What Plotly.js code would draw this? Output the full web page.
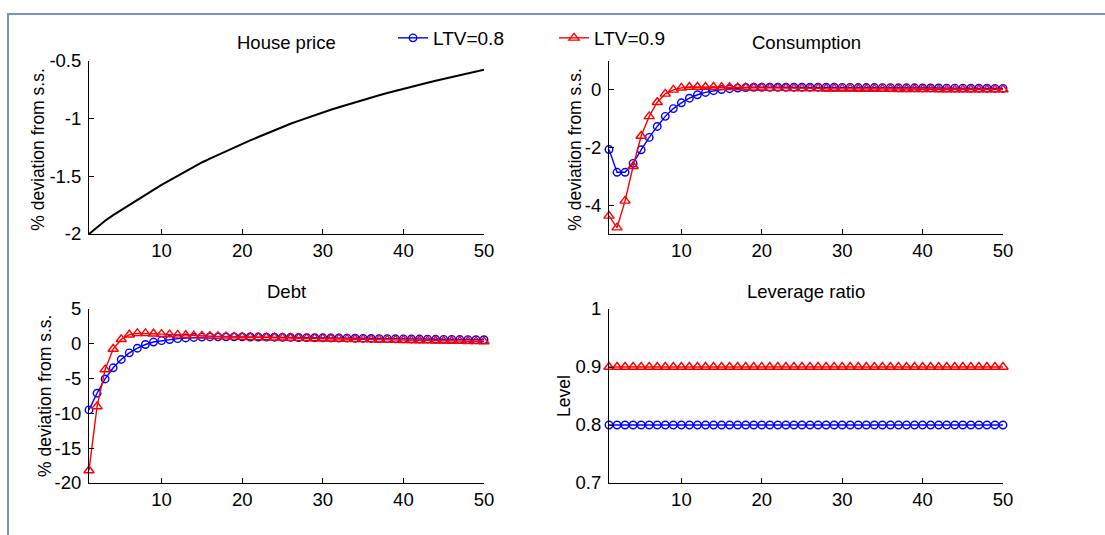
<!DOCTYPE html>
<html>
<head>
<meta charset="utf-8">
<script src="https://cdn.plot.ly/plotly-3.0.1.min.js"></script>
<style>
  html, body { margin: 0; padding: 0; background: #ffffff; }
  #chart { width: 1105px; height: 535px; }
</style>
</head>
<body>
<div id="chart"></div>
<script>
// ---------- data ----------
const periods = [1,2,3,4,5,6,7,8,9,10,11,12,13,14,15,16,17,18,19,20,21,22,23,24,25,
  26,27,28,29,30,31,32,33,34,35,36,37,38,39,40,41,42,43,44,45,46,47,48,49,50];

const seriesNames = ["LTV=0.8", "LTV=0.9"];
const panelTitles = ["House price", "Consumption", "Debt", "Leverage ratio"];
const yTitles = ["% deviation from s.s.", "% deviation from s.s.", "% deviation from s.s.", "Level"];

const housePrice = [-2.000,-1.940,-1.885,-1.837,-1.792,-1.747,-1.703,-1.659,-1.617,-1.575,
  -1.535,-1.495,-1.456,-1.418,-1.380,-1.347,-1.314,-1.282,-1.251,-1.220,
  -1.189,-1.159,-1.129,-1.099,-1.070,-1.044,-1.019,-0.994,-0.969,-0.945,
  -0.923,-0.901,-0.879,-0.857,-0.835,-0.816,-0.797,-0.778,-0.759,-0.740,
  -0.723,-0.706,-0.689,-0.672,-0.655,-0.639,-0.623,-0.607,-0.591,-0.575];

const consLTV08 = [-2.07,-2.86,-2.86,-2.55,-2.08,-1.65,-1.27,-0.92,-0.65,-0.45,
  -0.29,-0.17,-0.09,-0.03,0.01,0.04,0.06,0.08,0.09,0.09,
  0.09,0.09,0.09,0.09,0.09,0.09,0.09,0.09,0.09,0.085,
  0.085,0.08,0.08,0.08,0.075,0.075,0.07,0.07,0.07,0.065,
  0.065,0.065,0.06,0.06,0.06,0.055,0.055,0.055,0.05,0.05];

const consLTV09 = [-4.37,-4.78,-3.85,-2.65,-1.60,-0.92,-0.43,-0.14,0.00,0.07,
  0.10,0.10,0.10,0.10,0.09,0.09,0.08,0.08,0.07,0.07,
  0.06,0.06,0.06,0.05,0.05,0.05,0.05,0.04,0.04,0.04,
  0.04,0.03,0.03,0.03,0.03,0.03,0.02,0.02,0.02,0.02,
  0.02,0.01,0.01,0.01,0.01,0.01,0.01,0.01,0.01,0.01];

const debtLTV08 = [-9.5,-7.1,-5.05,-3.45,-2.25,-1.3,-0.63,-0.1,0.25,0.45,
  0.62,0.74,0.84,0.91,0.96,0.99,1.0,1.0,1.0,0.99,
  0.98,0.97,0.96,0.95,0.93,0.92,0.90,0.89,0.87,0.86,
  0.84,0.83,0.81,0.80,0.78,0.77,0.75,0.74,0.72,0.71,
  0.69,0.68,0.67,0.65,0.64,0.63,0.61,0.60,0.59,0.58];

const debtLTV09 = [-18.2,-9.0,-3.7,-0.75,0.65,1.3,1.5,1.5,1.45,1.39,
  1.33,1.28,1.23,1.18,1.14,1.10,1.06,1.03,1.00,0.97,
  0.95,0.93,0.90,0.88,0.86,0.84,0.82,0.79,0.77,0.75,
  0.73,0.70,0.68,0.65,0.63,0.61,0.59,0.56,0.54,0.52,
  0.50,0.48,0.46,0.44,0.42,0.40,0.38,0.37,0.35,0.33];

const levLTV08 = [0.8,0.8,0.8,0.8,0.8,0.8,0.8,0.8,0.8,0.8,0.8,0.8,0.8,0.8,0.8,0.8,0.8,0.8,0.8,0.8,
  0.8,0.8,0.8,0.8,0.8,0.8,0.8,0.8,0.8,0.8,0.8,0.8,0.8,0.8,0.8,0.8,0.8,0.8,0.8,0.8,
  0.8,0.8,0.8,0.8,0.8,0.8,0.8,0.8,0.8,0.8];
const levLTV09 = [0.9,0.9,0.9,0.9,0.9,0.9,0.9,0.9,0.9,0.9,0.9,0.9,0.9,0.9,0.9,0.9,0.9,0.9,0.9,0.9,
  0.9,0.9,0.9,0.9,0.9,0.9,0.9,0.9,0.9,0.9,0.9,0.9,0.9,0.9,0.9,0.9,0.9,0.9,0.9,0.9,
  0.9,0.9,0.9,0.9,0.9,0.9,0.9,0.9,0.9,0.9];

const xTicks = [10, 20, 30, 40, 50];
const xTickText = ["10", "20", "30", "40", "50"];
const yTicksHouse = [-2, -1.5, -1, -0.5];
const yTickTextHouse = ["-2", "-1.5", "-1", "-0.5"];
const yTicksCons = [-4, -2, 0];
const yTickTextCons = ["-4", "-2", "0"];
const yTicksDebt = [-20, -15, -10, -5, 0, 5];
const yTickTextDebt = ["-20", "-15", "-10", "-5", "0", "5"];
const yTicksLev = [0.7, 0.8, 0.9, 1];
const yTickTextLev = ["0.7", "0.8", "0.9", "1"];

// ---------- styling ----------
const FONT = "Liberation Sans, Arial, Helvetica, sans-serif";
const FS_TICK = 18.5;
const FS_TITLE = 18.5;
const FS_YLAB = 17.5;
const FS_LEG = 19;
const BLUE = "#0000ff", RED = "#ff0000";

function blueTrace(y, xa, ya, legend) {
  return { x: periods, y: y, xaxis: xa, yaxis: ya, type: "scatter", mode: "lines+markers",
    name: seriesNames[0], showlegend: legend, cliponaxis: false,
    line: { color: BLUE, width: 1.4 },
    marker: { symbol: "circle-open", size: 7.5, color: BLUE, line: { color: BLUE, width: 1.4 } } };
}
function redTrace(y, xa, ya, legend) {
  return { x: periods, y: y, xaxis: xa, yaxis: ya, type: "scatter", mode: "lines+markers",
    name: seriesNames[1], showlegend: legend, cliponaxis: false,
    line: { color: RED, width: 1.4 },
    marker: { symbol: "triangle-up-open", size: 9, color: RED, line: { color: RED, width: 1.4 } } };
}

const traces = [
  { x: periods, y: housePrice, xaxis: "x", yaxis: "y", type: "scatter", mode: "lines",
    showlegend: false, cliponaxis: false, line: { color: "#000000", width: 2 } },
  blueTrace(consLTV08, "x2", "y2", true),
  redTrace(consLTV09, "x2", "y2", true),
  blueTrace(debtLTV08, "x3", "y3", false),
  redTrace(debtLTV09, "x3", "y3", false),
  blueTrace(levLTV08, "x4", "y4", false),
  redTrace(levLTV09, "x4", "y4", false)
];

const W = 1105, H = 535;
const colL = [89 / W, 484 / W];
const colR = [609 / W, 1003 / W];
const rowT = [(H - 234) / H, (H - 61) / H];
const rowB = [(H - 483) / H, (H - 309) / H];

function xAxis(domain, anchor) {
  return { domain: domain, anchor: anchor, range: [1, 50], tickmode: "array",
    tickvals: xTicks, ticktext: xTickText, showline: true, linecolor: "#000", linewidth: 1,
    ticks: "inside", ticklen: 5, tickwidth: 1, tickcolor: "#000", showgrid: false, zeroline: false,
    ticklabelstandoff: 0, tickfont: { family: FONT, size: FS_TICK, color: "#000" }, fixedrange: true };
}
function yAxis(domain, anchor, range, tv, tt) {
  return { domain: domain, anchor: anchor, range: range, tickmode: "array",
    tickvals: tv, ticktext: tt, showline: true, linecolor: "#000", linewidth: 1,
    ticks: "inside", ticklen: 5, tickwidth: 1, tickcolor: "#000", showgrid: false, zeroline: false,
    ticklabelstandoff: 3, tickfont: { family: FONT, size: FS_TICK, color: "#000" }, fixedrange: true };
}

function ann(text, x, y, angle, size) {
  return { text: text, x: x, y: y, xref: "paper", yref: "paper", xanchor: "center", yanchor: "middle",
    showarrow: false, textangle: angle || 0, font: { family: FONT, size: size, color: "#000" } };
}

const layout = {
  width: W, height: H,
  margin: { l: 0, r: 0, t: 0, b: 0 },
  paper_bgcolor: "#ffffff", plot_bgcolor: "#ffffff",
  font: { family: FONT, size: FS_TICK, color: "#000" },
  xaxis: xAxis(colL, "y"),
  yaxis: yAxis(rowT, "x", [-2, -0.5], yTicksHouse, yTickTextHouse),
  xaxis2: xAxis(colR, "y2"),
  yaxis2: yAxis(rowT, "x2", [-5, 1], yTicksCons, yTickTextCons),
  xaxis3: xAxis(colL, "y3"),
  yaxis3: yAxis(rowB, "x3", [-20, 5], yTicksDebt, yTickTextDebt),
  xaxis4: xAxis(colR, "y4"),
  yaxis4: yAxis(rowB, "x4", [0.7, 1], yTicksLev, yTickTextLev),
  showlegend: true,
  legend: { orientation: "h", x: 393 / W, xanchor: "left", y: (H - 38) / H, yanchor: "middle",
    bgcolor: "rgba(0,0,0,0)", borderwidth: 0, entrywidth: 116, entrywidthmode: "pixels",
    font: { family: FONT, size: FS_LEG, color: "#000" }, itemclick: false, itemdoubleclick: false },
  annotations: [
    ann(panelTitles[0], (colL[0] + colL[1]) / 2, (H - 42) / H, 0, FS_TITLE),
    ann(panelTitles[1], (colR[0] + colR[1]) / 2, (H - 42) / H, 0, FS_TITLE),
    ann(panelTitles[2], (colL[0] + colL[1]) / 2, (H - 291) / H, 0, FS_TITLE),
    ann(panelTitles[3], (colR[0] + colR[1]) / 2, (H - 291) / H, 0, FS_TITLE),
    ann(yTitles[0], 38 / W, (rowT[0] + rowT[1]) / 2 - 0.004, -90, FS_YLAB),
    ann(yTitles[1], 575 / W, (rowT[0] + rowT[1]) / 2 - 0.004, -90, FS_YLAB),
    ann(yTitles[2], 45 / W, (rowB[0] + rowB[1]) / 2, -90, FS_YLAB),
    ann(yTitles[3], 564 / W, (rowB[0] + rowB[1]) / 2, -90, FS_YLAB)
  ],
  shapes: [
    { type: "rect", xref: "paper", yref: "paper", x0: 8 / W, x1: 1.02, y0: -0.05, y1: (H - 14) / H,
      line: { color: "#7393cb", width: 2 }, fillcolor: "rgba(0,0,0,0)", layer: "below" }
  ]
};

Plotly.newPlot("chart", traces, layout, { displayModeBar: false, staticPlot: true });
</script>
</body>
</html>
